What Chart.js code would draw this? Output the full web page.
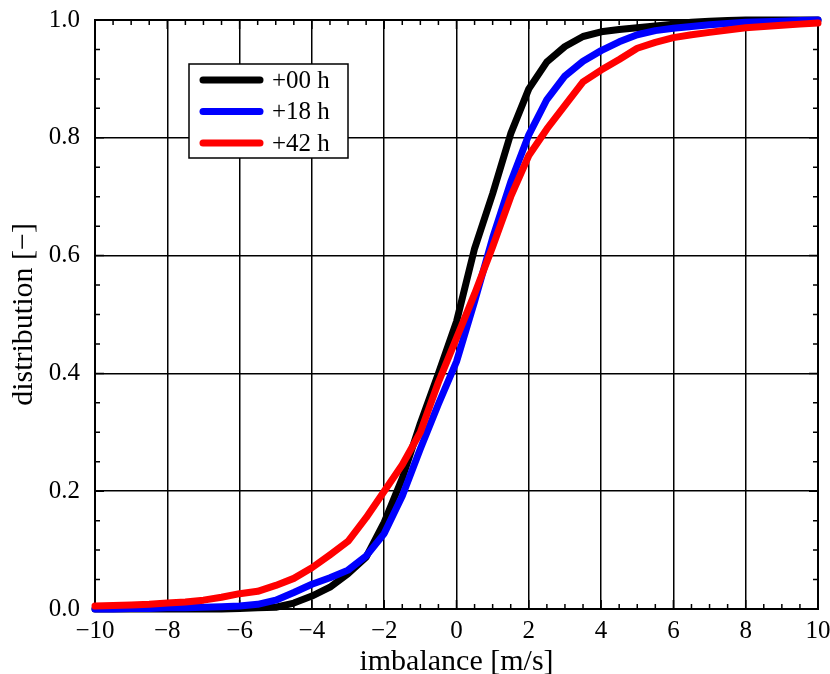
<!DOCTYPE html>
<html>
<head>
<meta charset="utf-8">
<script src="https://cdn.jsdelivr.net/npm/chart.js@4.4.1/dist/chart.umd.min.js"></script>
<style>
  html, body { margin: 0; padding: 0; background: #fff; }
  #wrap { width: 830px; height: 674px; }
</style>
</head>
<body>
<div id="wrap"><canvas id="cdf"></canvas></div>
<script>
// ===== Data =====
const imbalance = [-10, -9.5, -9, -8.5, -8, -7.5, -7, -6.5, -6, -5.5, -5, -4.5, -4, -3.5, -3, -2.5, -2, -1.5, -1, -0.5,
                   0, 0.5, 1, 1.5, 2, 2.5, 3, 3.5, 4, 4.5, 5, 5.5, 6, 6.5, 7, 7.5, 8, 8.5, 9, 9.5, 10];

const lead00 = [0.000, 0.000, 0.000, 0.000, 0.000, 0.000, 0.000, 0.000, 0.001, 0.002, 0.003, 0.010, 0.022, 0.037, 0.060, 0.088, 0.147, 0.222, 0.315, 0.400,
                0.488, 0.612, 0.705, 0.807, 0.883, 0.929, 0.955, 0.972, 0.980, 0.984, 0.987, 0.990, 0.993, 0.996, 0.998, 0.999, 1.000, 1.000, 1.000, 1.000, 1.000];

const lead18 = [0.000, 0.000, 0.001, 0.001, 0.002, 0.002, 0.003, 0.004, 0.005, 0.008, 0.015, 0.028, 0.042, 0.053, 0.066, 0.090, 0.128, 0.192, 0.272, 0.348,
                0.420, 0.522, 0.630, 0.725, 0.805, 0.865, 0.905, 0.930, 0.948, 0.963, 0.975, 0.982, 0.986, 0.989, 0.992, 0.994, 0.996, 0.997, 0.998, 0.999, 1.000];

const lead42 = [0.005, 0.006, 0.007, 0.008, 0.010, 0.012, 0.015, 0.020, 0.026, 0.030, 0.040, 0.052, 0.070, 0.092, 0.115, 0.155, 0.200, 0.245, 0.300, 0.385,
                0.460, 0.535, 0.615, 0.700, 0.770, 0.815, 0.855, 0.895, 0.915, 0.933, 0.952, 0.962, 0.970, 0.975, 0.979, 0.983, 0.987, 0.989, 0.991, 0.993, 0.995];

const seriesLabels = ['+00 h', '+18 h', '+42 h'];
const seriesColors = ['#000000', '#0000ff', '#ff0000'];

const xTicks = [-10, -8, -6, -4, -2, 0, 2, 4, 6, 8, 10];
const yTicks = [0, 0.2, 0.4, 0.6, 0.8, 1.0];

const FONT = "'Liberation Serif', 'Times New Roman', serif";

function toPoints(ys) {
    return imbalance.map((x, i) => ({ x: x, y: ys[i] }));
}

// ===== Frame + inward ticks =====
const framePlugin = {
    id: 'frame',
    beforeDatasetsDraw(chart) {
        const { ctx, chartArea: a, scales: { x, y } } = chart;
        ctx.save();
        ctx.strokeStyle = '#000';
        ctx.lineWidth = 1.5;
        ctx.beginPath();
        // minor ticks every 0.5 on x
        for (let v = -10; v <= 10.001; v += 0.5) {
            const px = x.getPixelForValue(v);
            const len = Math.abs(v % 2) < 0.01 ? 9 : 5;
            ctx.moveTo(px, a.bottom); ctx.lineTo(px, a.bottom - len);
            ctx.moveTo(px, a.top); ctx.lineTo(px, a.top + len);
        }
        // minor ticks every 0.05 on y
        for (let k = 0; k <= 20; k++) {
            const py = y.getPixelForValue(k * 0.05);
            const len = k % 4 === 0 ? 9 : 5;
            ctx.moveTo(a.left, py); ctx.lineTo(a.left + len, py);
            ctx.moveTo(a.right, py); ctx.lineTo(a.right - len, py);
        }
        ctx.stroke();
        ctx.lineWidth = 2;
        ctx.strokeRect(a.left, a.top, a.right - a.left, a.bottom - a.top);
        ctx.restore();
    }
};

// ===== Boxed legend inside the plot =====
const legendPlugin = {
    id: 'boxLegend',
    afterDraw(chart) {
        const ctx = chart.ctx;
        const bx = 189, by = 64, bw = 159, bh = 94;
        ctx.save();
        ctx.fillStyle = '#fff';
        ctx.fillRect(bx, by, bw, bh);
        ctx.strokeStyle = '#000';
        ctx.lineWidth = 1.5;
        ctx.strokeRect(bx, by, bw, bh);
        ctx.font = '25px ' + FONT;
        ctx.textBaseline = 'middle';
        chart.data.datasets.forEach((ds, i) => {
            const cy = 80 + i * 31.5;
            ctx.strokeStyle = ds.borderColor;
            ctx.lineWidth = 7;
            ctx.lineCap = 'round';
            ctx.beginPath();
            ctx.moveTo(203, cy);
            ctx.lineTo(260, cy);
            ctx.stroke();
            ctx.fillStyle = '#000';
            ctx.fillText(ds.label, 272, cy + 1);
        });
        ctx.restore();
    }
};

const ctx = document.getElementById('cdf').getContext('2d');
new Chart(ctx, {
    type: 'line',
    data: {
        datasets: [lead00, lead18, lead42].map((ys, i) => ({
            label: seriesLabels[i],
            data: toPoints(ys),
            borderColor: seriesColors[i],
            backgroundColor: seriesColors[i],
            borderWidth: 7,
            borderCapStyle: 'round',
            borderJoinStyle: 'round',
            pointRadius: 0,
            tension: 0,
            clip: 8,
            order: 3 - i
        }))
    },
    options: {
        responsive: true,
        maintainAspectRatio: false,
        animation: false,
        events: [],
        layout: { padding: { top: 20, right: 12, left: 0, bottom: 0 } },
        plugins: {
            legend: { display: false },
            tooltip: { enabled: false }
        },
        scales: {
            x: {
                type: 'linear',
                min: -10,
                max: 10,
                afterFit: s => { s.height = 65; s.paddingLeft = 0; s.paddingRight = 0; },
                afterBuildTicks: s => { s.ticks = xTicks.map(v => ({ value: v })); },
                grid: { color: '#000', lineWidth: 1.5, drawTicks: false },
                border: { display: false },
                ticks: {
                    color: '#000',
                    padding: 7,
                    font: { family: FONT, size: 25 },
                    maxRotation: 0,
                    callback: v => String(v).replace('-', '\u2212')
                },
                title: {
                    display: true,
                    text: 'imbalance [m/s]',
                    color: '#000',
                    font: { family: FONT, size: 30, lineHeight: 0.8 },
                    padding: { top: 0, bottom: 0 }
                }
            },
            y: {
                min: 0,
                max: 1,
                afterFit: s => { s.width = 95; s.paddingTop = 0; s.paddingBottom = 0; },
                afterBuildTicks: s => { s.ticks = yTicks.map(v => ({ value: v })); },
                grid: { color: '#000', lineWidth: 1.5, drawTicks: false },
                border: { display: false },
                ticks: {
                    color: '#000',
                    padding: 15,
                    font: { family: FONT, size: 25 },
                    callback: v => Number(v).toFixed(1)
                },
                title: {
                    display: true,
                    text: 'distribution [\u2212]',
                    color: '#000',
                    font: { family: FONT, size: 30, lineHeight: 1.6 },
                    padding: { top: 0, bottom: 0 }
                }
            }
        }
    },
    plugins: [framePlugin, legendPlugin]
});
</script>
</body>
</html>
